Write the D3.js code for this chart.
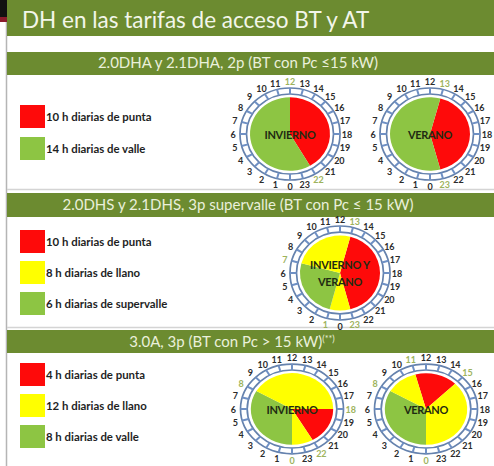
<!DOCTYPE html>
<html><head><meta charset="utf-8">
<script src="https://cdn.jsdelivr.net/npm/d3@7"></script>
<style>body{margin:0;background:#fff}svg{display:block}</style>
</head><body><svg id="c" width="494" height="466"></svg>
<script>
// ---------- DATA ----------
const title = "DH en las tarifas de acceso BT y AT";
const sectionTitles = ["2.0DHA y 2.1DHA, 2p (BT con Pc ≤15 kW)",
  "2.0DHS y 2.1DHS, 3p supervalle (BT con Pc ≤ 15 kW)",
  "3.0A, 3p (BT con Pc > 15 kW)"];
const sectionNotes = ["", "", "(**)"];
const legend1 = [{label:"10 h diarias de punta", period:"punta"},
                 {label:"14 h diarias de valle", period:"valle"}];
const legend2 = [{label:"10 h diarias de punta", period:"punta"},
                 {label:"8 h diarias de llano", period:"llano"},
                 {label:"6 h diarias de supervalle", period:"valle"}];
const legend3 = [{label:"4 h diarias de punta", period:"punta"},
                 {label:"12 h diarias de llano", period:"llano"},
                 {label:"8 h diarias de valle", period:"valle"}];
const hourLabels = [0,1,2,3,4,5,6,7,8,9,10,11,12,13,14,15,16,17,18,19,20,21,22,23];
// segments: start hour, duration (h), period
const dhaInvierno = [{start:12,hours:10,period:"punta"},{start:22,hours:14,period:"valle"}];
const dhaVerano   = [{start:13,hours:10,period:"punta"},{start:23,hours:14,period:"valle"}];
const dhsAnual    = [{start:13,hours:10,period:"punta"},{start:23,hours:2,period:"llano"},
                     {start:1,hours:6,period:"valle"},{start:7,hours:6,period:"llano"}];
const a30Invierno = [{start:18,hours:4,period:"punta"},{start:22,hours:2,period:"llano"},
                     {start:0,hours:8,period:"valle"},{start:8,hours:10,period:"llano"}];
const a30Verano   = [{start:11,hours:4,period:"punta"},{start:15,hours:9,period:"llano"},
                     {start:0,hours:8,period:"valle"},{start:8,hours:3,period:"llano"}];
const clockNames = [["INVIERNO"],["VERANO"],["INVIERNO Y","VERANO"],["INVIERNO"],["VERANO"]];

// ---------- STYLE / LAYOUT ----------
const colors = {punta:"#fe0a0a", llano:"#ffff00", valle:"#8dc543"};
const headGreen = "#6c8b30";
const svg = d3.select("#c");
const FONT = "Lato, 'Open Sans', sans-serif";

// frame
svg.append("rect").attr("x",0).attr("y",0).attr("width",7).attr("height",17).attr("fill","#111");
svg.append("rect").attr("x",0).attr("y",17).attr("width",7).attr("height",5).attr("fill","#8a1c2c");
svg.append("line").attr("x1",6.5).attr("x2",6.5).attr("y1",22).attr("y2",466).attr("stroke","#b5b5b5").attr("stroke-width",1.5);

// title bar
svg.append("rect").attr("x",7).attr("y",0).attr("width",487).attr("height",36).attr("fill",headGreen);
svg.append("text").attr("x",22).attr("y",28).attr("fill","#f3f6ea")
  .attr("font-family",FONT).attr("font-size",22.5).text(title);

const headers = [{y:52,h:23,tx:238,ty:68},{y:193,h:24,tx:238,ty:210},{y:330,h:23,tx:232,ty:347}];
const bodyBottoms = [189.5, 327.5];
bodyBottoms.forEach(y=>svg.append("line").attr("x1",7).attr("x2",494).attr("y1",y).attr("y2",y)
  .attr("stroke","#d4d4d4").attr("stroke-width",1.5));
headers.forEach((h,i)=>{
  svg.append("rect").attr("x",7).attr("y",h.y).attr("width",487).attr("height",h.h).attr("fill",headGreen);
  const t = svg.append("text").attr("x",h.tx).attr("y",h.ty).attr("text-anchor","middle")
    .attr("fill","#eaf0db").attr("font-family",FONT).attr("font-size",15);
  t.append("tspan").text(sectionTitles[i]);
  if (sectionNotes[i]) t.append("tspan").attr("dy",-5).attr("font-size",9).text(sectionNotes[i]);
});

// legends
function drawLegend(items, ys){
  items.forEach((d,i)=>{
    svg.append("rect").attr("x",20).attr("y",ys[i]).attr("width",25).attr("height",23).attr("fill",colors[d.period]);
    svg.append("text").attr("x",46).attr("y",ys[i]+15.5).attr("fill","#1f1f1f")
      .attr("font-family",FONT).attr("font-weight","bold").attr("font-size",11.4).text(d.label);
  });
}
drawLegend(legend1,[105,137]);
drawLegend(legend2,[230,261,292]);
drawLegend(legend3,[363,394,425]);

// clocks
const angle = d3.scaleLinear().domain([0,24]).range([Math.PI, 3*Math.PI]);
const PIE_R = 40, IN_R = 43.5, OUT_R = 50, LAB_R = 57;
function drawClock(segs, names, cx, cy, s, k){
  const g = svg.append("g").attr("transform",`translate(${cx},${cy}) scale(${s},${s*k})`);
  const a0 = angle(segs[0].start);
  const pie = d3.pie().sort(null).value(d=>d.hours).startAngle(a0).endAngle(a0+2*Math.PI);
  const arc = d3.arc().innerRadius(0).outerRadius(PIE_R);
  g.selectAll("path.seg").data(pie(segs)).join("path").attr("class","seg")
    .attr("d",arc).attr("fill",d=>colors[d.data.period]);
  [IN_R, OUT_R].forEach(r=>g.append("circle").attr("r",r).attr("fill","none")
    .attr("stroke","#6582ad").attr("stroke-width",1.7).attr("vector-effect","non-scaling-stroke"));
  g.selectAll("line.tick").data(hourLabels).join("line").attr("class","tick")
    .attr("x1",h=>IN_R*Math.sin(angle(h))).attr("y1",h=>-IN_R*Math.cos(angle(h)))
    .attr("x2",h=>OUT_R*Math.sin(angle(h))).attr("y2",h=>-OUT_R*Math.cos(angle(h)))
    .attr("stroke","#6f90c4").attr("stroke-width",2).attr("vector-effect","non-scaling-stroke");
  const marks = new Set(segs.map(d=>d.start));
  svg.selectAll(null).data(hourLabels).join("text")
    .attr("x",h=>cx+LAB_R*s*Math.sin(angle(h)))
    .attr("y",h=>cy-LAB_R*s*k*Math.cos(angle(h)))
    .attr("text-anchor","middle").attr("dominant-baseline","central")
    .attr("font-family",FONT).attr("font-weight","bold").attr("font-size",9)
    .attr("fill",h=>marks.has(h)?"#9db35c":"#2b2b2b").text(h=>h);
  const n = names.length;
  names.forEach((nm,i)=>svg.append("text").attr("x",cx).attr("y",cy+(i-(n-1)/2)*17)
    .attr("text-anchor","middle").attr("dominant-baseline","central")
    .attr("font-family",FONT).attr("font-weight","bold").attr("font-size",11).attr("fill","#1f2b12")
    .attr("letter-spacing",-0.3).text(nm));
}
drawClock(dhaInvierno, clockNames[0], 290, 134, 1, 0.92);
drawClock(dhaVerano,   clockNames[1], 430, 134, 1, 0.92);
drawClock(dhsAnual,    clockNames[2], 340, 273, 1, 0.94);
drawClock(a30Invierno, clockNames[3], 292, 409, 1.03, 0.87);
drawClock(a30Verano,   clockNames[4], 426, 409, 1.03, 0.87);
</script></body></html>
